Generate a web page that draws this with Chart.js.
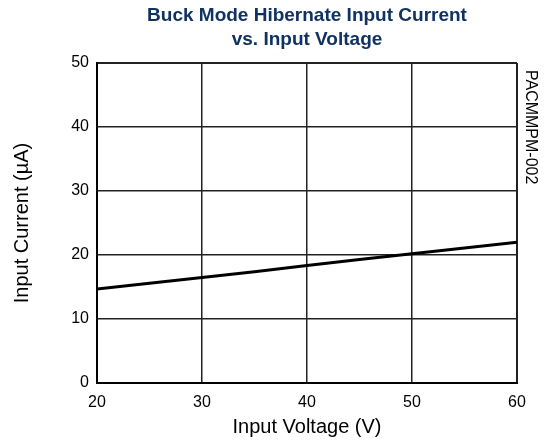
<!DOCTYPE html>
<html>
<head>
<meta charset="utf-8">
<title>Buck Mode Hibernate Input Current vs. Input Voltage</title>
<script src="https://cdn.jsdelivr.net/npm/chart.js"></script>
<style>
  body { margin:0; background:#fff; }
  canvas { display:block; }
</style>
</head>
<body>
<canvas id="chart" width="547" height="442"></canvas>
<script>
// data
const voltage = [20, 25, 30, 35, 40, 45, 50, 55, 60];
const current = [14.7, 15.6, 16.5, 17.4, 18.35, 19.3, 20.2, 21.1, 22.0];
const titleLines = ["Buck Mode Hibernate Input Current", "vs. Input Voltage"];
const sideLabel = "PACMMPM-002";

const FONT = "'Liberation Sans', Arial, sans-serif";

// title + rotated figure id
const textPlugin = {
  id: "texts",
  afterDraw(chart) {
    const ctx = chart.ctx;
    const mid = (chart.chartArea.left + chart.chartArea.right) / 2;
    ctx.save();
    ctx.fillStyle = "#0f3263";
    ctx.font = "bold 19px " + FONT;
    ctx.textAlign = "center";
    ctx.textBaseline = "alphabetic";
    ctx.fillText(titleLines[0], mid, 21);
    ctx.fillText(titleLines[1], mid, 45);
    ctx.restore();

    ctx.save();
    ctx.fillStyle = "#000";
    ctx.font = "16px " + FONT;
    ctx.translate(530, 70);
    ctx.rotate(Math.PI / 2);
    ctx.textAlign = "left";
    ctx.textBaseline = "middle";
    ctx.fillText(sideLabel, 0, 0);
    ctx.restore();
  }
};

const edgeWidth = (c) => (c.index === 0 || c.index === c.scale.ticks.length - 1) ? 2 : 1.5;

new Chart(document.getElementById("chart"), {
  type: "line",
  data: {
    labels: voltage,
    datasets: [{
      data: voltage.map((v, i) => ({ x: v, y: current[i] })),
      borderColor: "#000",
      borderWidth: 3,
      pointRadius: 0,
      tension: 0,
      fill: false
    }]
  },
  options: {
    responsive: false,
    animation: false,
    devicePixelRatio: 1,
    layout: { padding: { top: 63, right: 30, left: 0, bottom: 0 } },
    plugins: { legend: { display: false }, tooltip: { enabled: false } },
    scales: {
      x: {
        type: "linear",
        min: 20, max: 60,
        afterFit(s) { s.height = 59; },
        ticks: { stepSize: 10, padding: 10, color: "#000", font: { size: 16, family: FONT } },
        grid: { color: "#222", lineWidth: edgeWidth, drawTicks: false },
        border: { color: "#000", width: 2 },
        title: { display: true, text: "Input Voltage (V)", color: "#000",
                 font: { size: 20, family: FONT }, padding: { top: 0, bottom: 3 } }
      },
      y: {
        min: 0, max: 50,
        afterFit(s) { s.width = 97; },
        ticks: { stepSize: 10, padding: 8, color: "#000", font: { size: 16, family: FONT } },
        grid: { color: "#222", lineWidth: edgeWidth, drawTicks: false },
        border: { color: "#000", width: 2 },
        title: { display: true, text: "Input Current (µA)", color: "#000",
                 font: { size: 20, family: FONT }, padding: { top: 10, bottom: 0 } }
      }
    }
  },
  plugins: [textPlugin]
});
</script>
</body>
</html>
